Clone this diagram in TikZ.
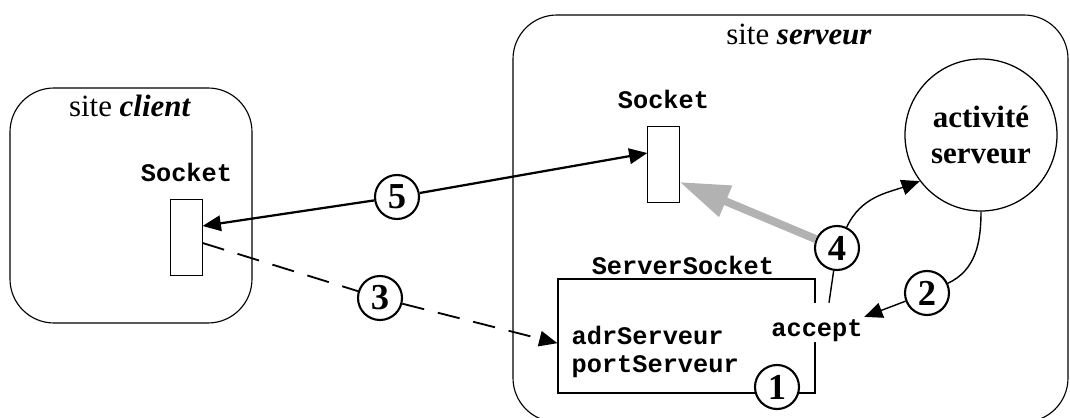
\documentclass[tikz,border=0pt]{standalone}
\usepackage{fontspec}
\setmainfont{Liberation Serif}
\setmonofont{Liberation Mono}
\usepackage{tikz}
\usetikzlibrary{arrows.meta,positioning,calc}

\begin{document}
\begin{tikzpicture}[
  font=\fontsize{22}{26}\selectfont, >={Triangle[length=13pt,width=11pt]},
  site/.style={draw, line width=0.8pt, rounded corners=1.1cm, inner sep=0pt},
  sock/.style={draw, line width=0.7pt, minimum width=0.78cm, minimum height=1.9cm, inner sep=0pt},
  code/.style={font=\fontsize{18}{20}\selectfont\ttfamily\bfseries, inner sep=1pt},
  num/.style={draw, circle, line width=1.5pt, fill=white, minimum size=1.1cm, inner sep=0pt, font=\fontsize{26}{26}\selectfont\bfseries},
  link/.style={line width=1pt}]
\useasboundingbox (0,0) rectangle (26.75,10.45);
\node[site, minimum width=6.05cm, minimum height=5.875cm] (client) at (3.275,5.3125) {};
\node[site, minimum width=13.875cm, minimum height=10.175cm] (server) at (19.7625,4.9875) {};
\node[anchor=base] (tclient) at (3.25,7.525) {site \textbf{\textit{client}}};
\node[anchor=base] (tserver) at (19.975,9.325) {site \textbf{\textit{serveur}}};
\node[sock] (csock) at (4.6625,4.525) {};
\node[code, above=0.38cm of csock] (lcsock) {Socket};
\node[sock] (ssock) at (16.5875,6.35) {};
\node[code, above=0.38cm of ssock] (lssock) {Socket};
\node[draw, line width=0.8pt, minimum width=6.425cm, minimum height=2.85cm, inner sep=0pt] (ssrv) at (17.1625,2.05) {};
\node[code, above=0.06cm of ssrv, xshift=-0.09cm] (lssrv) {ServerSocket};
\node[code, align=left, anchor=west] (attr) at (14.25,1.65) {adrServeur\\portServeur};
\node[code, fill=white, inner ysep=0pt, text height=0.85cm, text depth=0.125cm, anchor=base] (acc) at (20.425,2.025) {accept};
\node[draw, circle, line width=0.9pt, minimum size=3.8cm, inner sep=0pt, align=center, font=\fontsize{22}{26}\selectfont\bfseries] (act) at (24.525,7.075) {activité\\serveur};
\node[num] (c1) at (19.425,0.775) {1};
\node[num] (c2) at (23.175,3.125) {2};
\node[num] (c3) at (9.5,3.0) {3};
\node[num] (c4) at (20.925,4.25) {4};
\node[num] (c5) at (9.925,5.525) {5};
\draw[line width=1.6pt, ->] (c5) -- ($(ssock.west)+(0,0.275)$);
\draw[line width=1.6pt, ->] (c5) -- ($(csock.east)+(0,0.275)$);
\draw[line width=1.3pt, dash pattern=on 16pt off 10pt] ($(csock.east)+(0,-0.15)$) -- (c3);
\draw[line width=1.3pt, dash pattern=on 16pt off 10pt, ->] (c3) -- ($(ssrv.west)+(0,-0.18)$);
\draw[line width=5.7pt, gray!60, -{Triangle[length=1.25cm,width=0.8cm]}] (c4) -- ($(ssock.east)+(0,-0.45)$);
\draw[link] ($(acc.north)+(0.3,0)$) -- (c4);
\draw[link, ->] (c4) to[out=65, in=200] (act.217);
\draw[link] (act.south) to[out=-90, in=25] (c2);
\draw[link, ->] (c2) -- ($(acc.east)+(0,0.14)$);
\end{tikzpicture}
\end{document}
